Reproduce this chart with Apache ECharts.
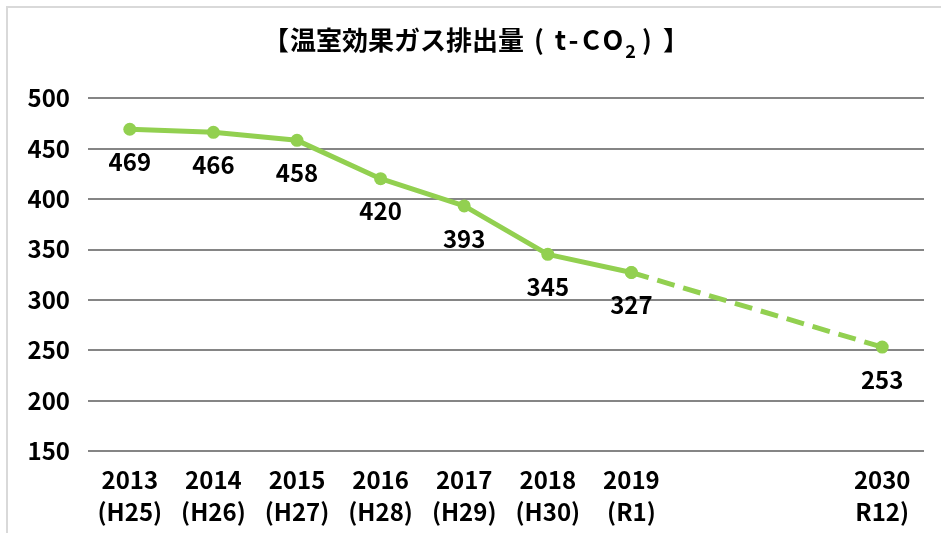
<!DOCTYPE html>
<html>
<head>
<meta charset="utf-8">
<script src="https://cdn.jsdelivr.net/npm/echarts@6/dist/echarts.min.js"></script>
<style>
  html, body { margin: 0; padding: 0; background: #fff; }
  #chart { width: 941px; height: 533px; }
</style>
</head>
<body>
<div id="chart"></div>
<script>
// 年度ラベル（2020〜2029 は空けておく）
const years = ['2013', '2014', '2015', '2016', '2017', '2018', '2019', '', '', '2030']
const eras = ['(H25)', '(H26)', '(H27)', '(H28)', '(H29)', '(H30)', '(R1)', '', '', 'R12)']
// 実績値
const actual = [469, 466, 458, 420, 393, 345, 327, null, null, null]
// 目標（2019 → 2030 の破線）
const target = [null, null, null, null, null, null, 327, null, null, 253]
const yTicks = { min: 150, max: 500, interval: 50 }

const categories = years.map((y, i) => y ? y + '\n' + eras[i] : '')
const green = '#92d050'
const font = '"Noto Sans CJK JP", "Liberation Sans", sans-serif'

// タイトルは1文字ずつ幅を決めて並べる
const titleMain = '温室効果ガス排出量'
const titleText = '{br|【}' + titleMain.split('').map(c => '{k|' + c + '}').join('') +
  '{lp|(}{n|t}{n|-}{w|C}{w|O}{sub|2}{rp|)}{rb|】}'
const base = { fontFamily: font, fontSize: 26, fontWeight: 'bold', color: '#000', height: 30, verticalAlign: 'bottom' }

let chart = echarts.init(document.getElementById('chart'))
const option = {
  animation: false,
  textStyle: { fontFamily: font },
  title: {
    left: 257,
    top: 20,
    text: titleText,
    textStyle: {
      fontFamily: font,
      fontSize: 26,
      fontWeight: 'bold',
      color: '#000',
      rich: {
        k: Object.assign({}, base, { width: 26, align: 'center' }),
        br: Object.assign({}, base, { width: 28, align: 'center' }),
        lp: Object.assign({}, base, { width: 30, align: 'center' }),
        rp: Object.assign({}, base, { width: 20, align: 'center' }),
        rb: Object.assign({}, base, { width: 38, align: 'center' }),
        n: Object.assign({}, base, { fontSize: 27, width: 13, align: 'center' }),
        w: Object.assign({}, base, { fontSize: 27, width: 22, align: 'center' }),
        sub: Object.assign({}, base, { fontSize: 18, width: 13, align: 'center', height: 20, padding: [0, 0, -6, 0] })
      }
    }
  },
  graphic: [{
    type: 'rect',
    shape: { x: 7, y: 7, width: 1000, height: 600 },
    style: { fill: 'none', stroke: '#d9d9d9', lineWidth: 2 },
    silent: true
  }],
  grid: { left: 88, top: 98, width: 836, height: 353, containLabel: false },
  xAxis: {
    type: 'category',
    data: categories,
    boundaryGap: true,
    axisLine: { show: false },
    axisTick: { show: false },
    axisLabel: {
      interval: 0,
      margin: 13,
      fontFamily: font,
      fontSize: 24,
      fontWeight: 'bold',
      lineHeight: 32,
      color: '#000'
    }
  },
  yAxis: {
    type: 'value',
    min: yTicks.min,
    max: yTicks.max,
    interval: yTicks.interval,
    axisLine: { show: false },
    axisTick: { show: false },
    axisLabel: {
      margin: 18,
      fontFamily: font,
      fontSize: 24,
      fontWeight: 'bold',
      color: '#000'
    },
    splitLine: { lineStyle: { color: '#858585', width: 2 } }
  },
  series: [
    {
      name: '実績',
      type: 'line',
      data: actual,
      symbol: 'circle',
      symbolSize: 13,
      itemStyle: { color: green },
      lineStyle: { color: green, width: 5 },
      label: {
        show: true,
        position: 'bottom',
        distance: 14,
        fontFamily: font,
        fontSize: 24,
        fontWeight: 'bold',
        color: '#000'
      },
      z: 3
    },
    {
      name: '目標',
      type: 'line',
      data: target,
      connectNulls: true,
      symbol: 'circle',
      symbolSize: 13,
      itemStyle: { color: green },
      lineStyle: { color: green, width: 5, type: [18, 9] },
      label: {
        show: true,
        position: 'bottom',
        distance: 14,
        fontFamily: font,
        fontSize: 24,
        fontWeight: 'bold',
        color: '#000',
        formatter: p => p.dataIndex === 9 ? p.value : ''
      },
      z: 2
    }
  ]
}
chart.setOption(option)
</script>
</body>
</html>
